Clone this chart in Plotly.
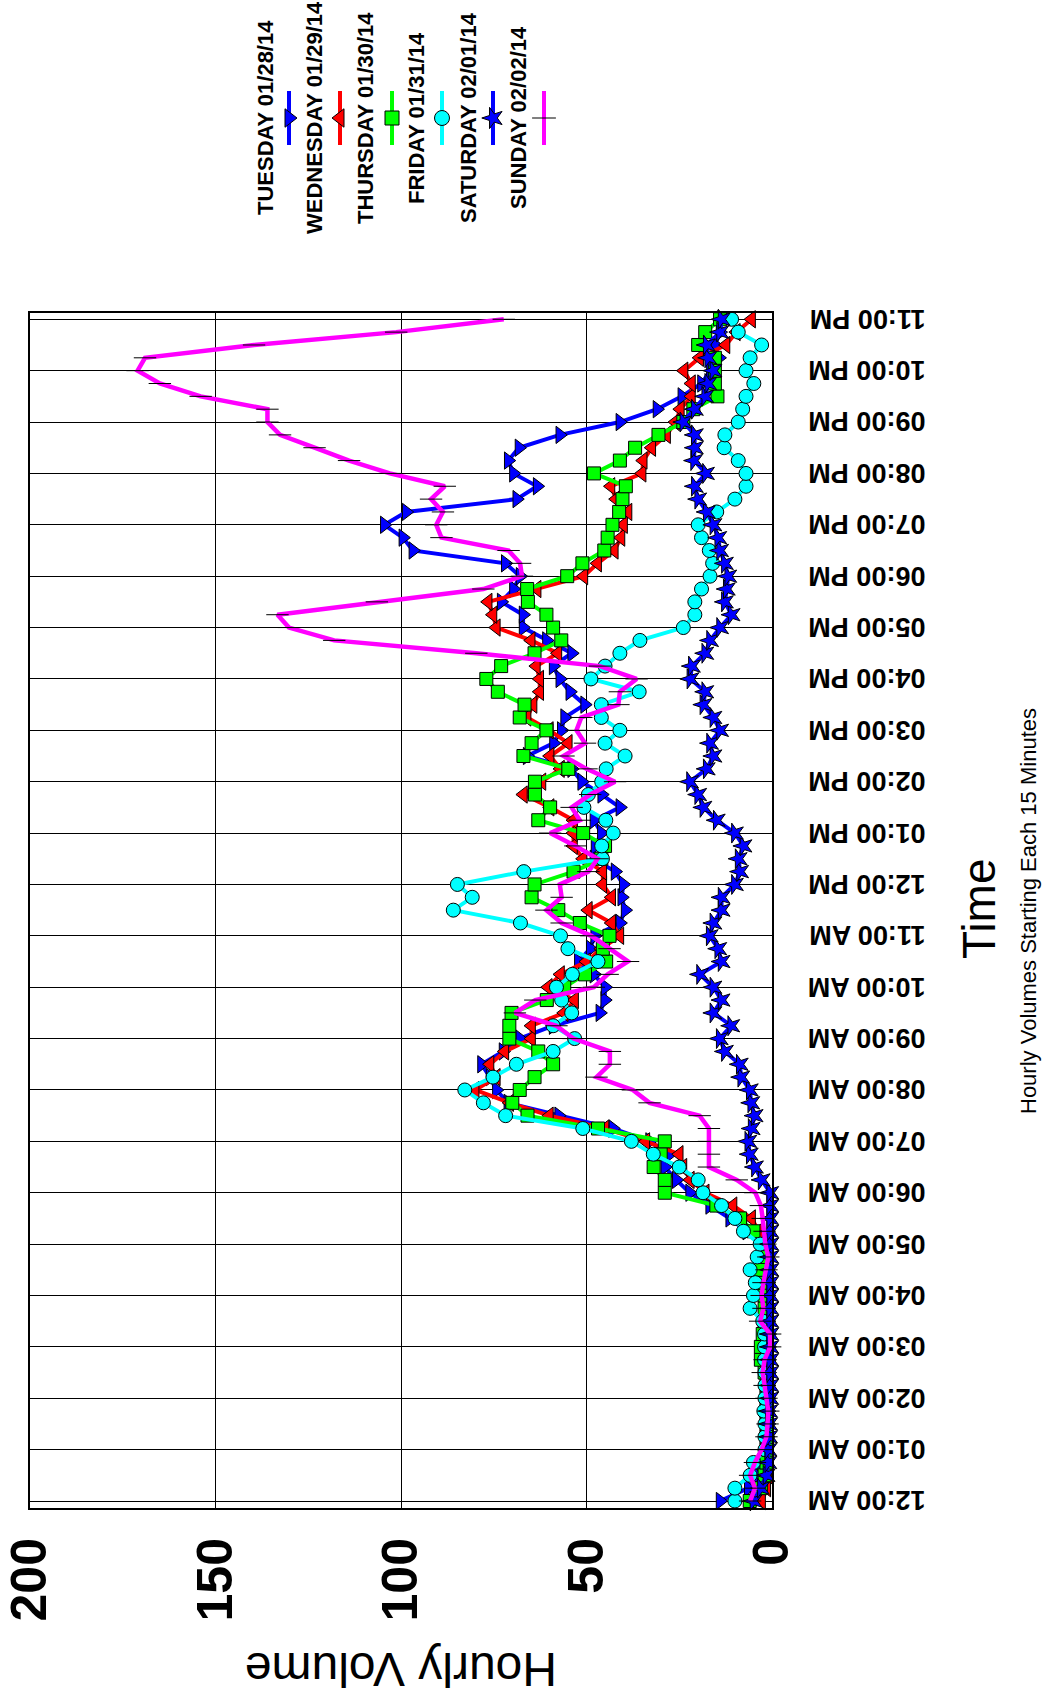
import plotly.graph_objects as go

# ---- hourly volumes, one value every 15 minutes from 12:00 AM to 11:00 PM ----
TUESDAY = [
    14, 6.4, 4.1, 2.8,
    1.5, 1.2, 1, 1,
    1, 1, 0.8, 0.8,
    0.8, 0.8, 1, 1,
    1, 1, 1.2, 1.5,
    2.3, 6.8, 11.4, 16.8,
    22.2, 25.8, 28.9, 27.6,
    33, 42.9, 57.5, 71.2,
    74.3, 76, 78.3, 72.5,
    68, 59, 46.4, 45.1,
    45, 48, 52.2, 49,
    47.8, 41, 39.6, 40.5,
    40.1, 42.3, 48, 47.7,
    46, 48, 41, 45.9,
    51.3, 54, 66, 58.9,
    56.8, 55.9, 50.5, 54.5,
    57.2, 59, 54, 60.8,
    67.1, 67.1, 73, 69.7,
    67.9, 71.9, 96.8, 99.5,
    104.5, 98.6, 68.8, 63.3,
    69.7, 71.1, 68.2, 57.2,
    41, 31, 24.3, 19,
    16.6, 14.3, 15.4, 14,
    13.7,
]
WEDNESDAY = [
    2.8, 1.4, 1, 1,
    1, 1, 1, 1,
    1, 1, 1, 1,
    1, 1, 1, 1,
    1, 1, 1, 1,
    1.5, 3.5, 5.5, 10.5,
    18, 22, 24, 25,
    34, 45, 60, 70.7,
    80, 74.3, 76, 72,
    64.8, 64.8, 56, 53.2,
    60.3, 57, 50, 46,
    41, 43.2, 49.5, 43.2,
    45.6, 45.6, 50.9, 53.5,
    53.5, 53.5, 59.8, 67,
    62, 57, 59.8, 54.9,
    60, 66, 64.4, 62.6,
    62.6, 63.5, 57.7, 64.9,
    74.3, 75.2, 76.5, 63.3,
    50.7, 47, 42.5, 40.7,
    40, 38.8, 42, 43.4,
    35, 34.7, 32.4, 28.4,
    26, 24.7, 21.7, 21.7,
    23.7, 19.5, 12.4, 9.6,
    5.5,
]
THURSDAY = [
    6, 3, 2, 1.5,
    1.5, 1.5, 1.5, 1.5,
    1.5, 1.5, 2, 3,
    3, 2.5, 2, 2,
    2, 3, 3, 2,
    1.9, 5, 8.6, 15,
    28.9, 28.9, 31.9, 30,
    28.9, 46.9, 65.9, 70,
    68, 64, 59, 63,
    70.8, 70.8, 70.2, 60.7,
    56, 50.4, 44.7, 45.6,
    43.8, 51.8, 57.6, 64.8,
    64, 53.5, 46, 45,
    50.9, 63, 59.8, 63.9,
    63.9, 54.9, 67, 64.8,
    60.8, 68, 66.7, 73.9,
    77, 73, 64, 56.8,
    59, 60.8, 65.8, 66,
    55.2, 51.1, 45.2, 44.3,
    43, 41.2, 40.3, 39.4,
    48, 41, 36.9, 30.6,
    23.9, 21.2, 14.7, 15.4,
    15.4, 15.4, 19.9, 18,
    14,
]
FRIDAY = [
    10, 10, 5.9, 5,
    1.9, 1.9, 1.9, 2.2,
    1.9, 1.9, 1.9, 2,
    2, 2, 2.5, 5.9,
    5, 4.5, 5.9, 4,
    3.2, 7.7, 10, 13.6,
    18.6, 19.9, 25, 32,
    37.9, 51, 71.8, 77.8,
    82.8, 75.2, 68.9, 59,
    53.2, 59, 54, 56.7,
    58.1, 53.8, 46.9, 55,
    57, 67.8, 85.9, 80.8,
    84.8, 66.9, 45.7, 45.9,
    42.8, 44.8, 50.7, 49.5,
    45.9, 44.7, 39.6, 45,
    41, 46, 46, 35.8,
    48.8, 45, 41, 35.6,
    23.9, 20.8, 20.8, 19,
    16.7, 16, 16.9, 19,
    19.9, 14.9, 10, 7,
    7, 9.1, 12.9, 12.7,
    9.1, 7.9, 7, 4.9,
    7, 5.9, 2.8, 9.1,
    10.9,
]
SATURDAY = [
    5, 3, 1.5, 1,
    1, 0.8, 0.8, 0.8,
    0.5, 0.5, 0.5, 0.5,
    0.5, 0.5, 0.5, 0.5,
    0.5, 0.5, 0.5, 0.5,
    0.5, 0.5, 0.5, 0.5,
    0.5, 2.8, 4.6, 6,
    6.4, 5.5, 4.7, 5.6,
    6, 8.3, 8.7, 12.7,
    14.1, 11, 15.8, 13.6,
    15.8, 19.4, 13.6, 14.5,
    16.8, 15.8, 13.6, 13.6,
    10, 8.6, 9, 7.7,
    10, 14.9, 18.5, 19.9,
    22.1, 17.6, 15.8, 16.7,
    14, 15.8, 18.5, 18,
    22, 21.6, 18, 16.7,
    14, 10.9, 12.7, 12.2,
    11.8, 12.7, 14, 14.5,
    15.8, 17.6, 19.9, 20.8,
    17.8, 21, 20.8, 20.8,
    23.9, 20.8, 18, 17.2,
    15.8, 17.2, 17.6, 14,
    13.6,
]
SUNDAY = [
    5.9, 4.6, 5.9, 4.6,
    2.8, 1.5, 1.2, 1,
    1.5, 2, 2.5, 2,
    0.5, 0.5, 3.2, 2.3,
    2.8, 2.3, 1.5, 1,
    1.8, 2, 2.5, 3,
    4.5, 9.5, 17, 17,
    17, 17, 19.5, 33,
    37.5, 47.3, 43.7, 43.7,
    53.5, 58.1, 69.3, 63.8,
    48, 44.3, 38.8, 43.8,
    48.7, 56.7, 60.8, 56.7,
    57.2, 49.5, 47, 53,
    59.8, 51.8, 54, 49,
    42.3, 50, 56.2, 50.4,
    52.7, 51.4, 41.4, 41,
    36.5, 46.4, 79.7, 118,
    130.2, 133.3, 106.5, 77.8,
    67.4, 67.9, 71, 89.1,
    90.5, 88.7, 91.9, 88.2,
    103, 114, 123.3, 132.6,
    136, 136, 154, 165,
    171, 169, 139.6, 101.3,
    72.3,
]

SERIES_NAMES = ["TUESDAY 01/28/14", "WEDNESDAY 01/29/14", "THURSDAY 01/30/14",
                "FRIDAY 01/31/14", "SATURDAY 02/01/14", "SUNDAY 02/02/14"]
SERIES_VALUES = [TUESDAY, WEDNESDAY, THURSDAY, FRIDAY, SATURDAY, SUNDAY]

HOUR_LABELS = ["12:00 AM", "01:00 AM", "02:00 AM", "03:00 AM", "04:00 AM", "05:00 AM",
               "06:00 AM", "07:00 AM", "08:00 AM", "09:00 AM", "10:00 AM", "11:00 AM",
               "12:00 PM", "01:00 PM", "02:00 PM", "03:00 PM", "04:00 PM", "05:00 PM",
               "06:00 PM", "07:00 PM", "08:00 PM", "09:00 PM", "10:00 PM", "11:00 PM"]
VOLUME_TICKS = [0, 50, 100, 150, 200]

# interval start times, in hours after midnight
TIMES = [i * 0.25 for i in range(len(TUESDAY))]

# ---- styling ----
W, H = 1044, 1702
FONT = "Liberation Sans, Arial, sans-serif"
STYLES = [
    dict(color="#0000FF", symbol="triangle-right", size=15, angle=0),
    dict(color="#FF0000", symbol="triangle-left", size=15, angle=0),
    dict(color="#00FF00", symbol="square", size=13, angle=0),
    dict(color="#00FFFF", symbol="circle", size=14, angle=0),
    dict(color="#0000FF", symbol="star", size=15, angle=270),
    dict(color="#FF00FF", symbol="line-ew", size=16, angle=0),
]

# plot frame in pixels
PX_L, PX_R, PX_T, PX_B = 30, 772, 312.7, 1508

fig = go.Figure()

for name, vals, st in zip(SERIES_NAMES, SERIES_VALUES, STYLES):
    is_dash = st["symbol"] == "line-ew"
    fig.add_trace(go.Scatter(
        x=vals, y=TIMES, name=name, mode="lines+markers",
        line=dict(color=st["color"], width=4.5 if is_dash else 4),
        marker=dict(symbol=st["symbol"], size=st["size"], angle=st["angle"],
                    color=st["color"] if not is_dash else "black",
                    line=dict(color="black", width=1)),
        xaxis="x", yaxis="y", showlegend=False, cliponaxis=False,
    ))

# ---- hand-built legend (rotated entries) in a small pixel-space subplot ----
LEG_X0, LEG_X1, LEG_Y0, LEG_Y1 = 230, 575, 0, 250
LEG_TEXT_X = [265, 314, 365, 416, 468, 518]
LEG_LINE_X = [289, 340, 392, 442, 493, 544]
LEG_MID_Y = 118
for name, st, tx, lx in zip(SERIES_NAMES, STYLES, LEG_TEXT_X, LEG_LINE_X):
    is_dash = st["symbol"] == "line-ew"
    fig.add_trace(go.Scatter(
        x=[lx, lx], y=[LEG_MID_Y - 27, LEG_MID_Y + 27], mode="lines",
        line=dict(color=st["color"], width=4), xaxis="x2", yaxis="y2",
        showlegend=False, hoverinfo="skip"))
    fig.add_trace(go.Scatter(
        x=[lx], y=[LEG_MID_Y], mode="markers",
        marker=dict(symbol=st["symbol"], size=st["size"] + 1, angle=st["angle"],
                    color=st["color"] if not is_dash else "black",
                    line=dict(color="black", width=1)),
        xaxis="x2", yaxis="y2", showlegend=False, hoverinfo="skip", cliponaxis=False))
    fig.add_annotation(x=tx, y=LEG_MID_Y, xref="x2", yref="y2", text=name,
                       textangle=-90, showarrow=False,
                       xanchor="center", yanchor="middle",
                       font=dict(family=FONT, size=22, color="black", weight="bold"))

# ---- axis titles ----
fig.add_annotation(x=401 / W, y=1 - 1670 / H, xref="paper", yref="paper",
                   text="Hourly Volume", textangle=180, showarrow=False,
                   xanchor="center", yanchor="middle",
                   font=dict(family=FONT, size=48, color="black"))
fig.add_annotation(x=979 / W, y=1 - 909 / H, xref="paper", yref="paper",
                   text="Time", textangle=-90, showarrow=False,
                   xanchor="center", yanchor="middle",
                   font=dict(family=FONT, size=46, color="black"))
fig.add_annotation(x=1029 / W, y=1 - 911 / H, xref="paper", yref="paper",
                   text="Hourly Volumes Starting Each 15 Minutes", textangle=-90,
                   showarrow=False, xanchor="center", yanchor="middle",
                   font=dict(family=FONT, size=22, color="black"))

fig.update_layout(
    width=W, height=H,
    margin=dict(l=0, r=0, t=0, b=0),
    paper_bgcolor="white", plot_bgcolor="rgba(0,0,0,0)",
    showlegend=False,
    xaxis=dict(
        domain=[PX_L / W, PX_R / W], range=[200, 0], automargin=False,
        tickvals=VOLUME_TICKS, ticktext=[str(v) for v in VOLUME_TICKS],
        tickangle=-90, ticklabelstandoff=8,
        tickfont=dict(family=FONT, size=50, color="black", weight="bold"),
        showgrid=True, gridcolor="black", gridwidth=1, zeroline=False,
        showline=True, mirror=True, linecolor="black", linewidth=2,
        ticks="", anchor="y",
    ),
    yaxis=dict(
        domain=[1 - PX_B / H, 1 - PX_T / H], range=[-0.136, 23.128], automargin=False,
        side="right", tickvals=list(range(24)), ticktext=HOUR_LABELS,
        tickangle=180, ticklabelstandoff=146, ticklabelshift=8,
        tickfont=dict(family=FONT, size=27, color="black", weight="bold"),
        showgrid=True, gridcolor="black", gridwidth=1, zeroline=False,
        showline=True, mirror=True, linecolor="black", linewidth=2,
        ticks="", anchor="x",
    ),
    xaxis2=dict(domain=[LEG_X0 / W, LEG_X1 / W], range=[LEG_X0, LEG_X1],
                visible=False, anchor="y2", fixedrange=True, automargin=False),
    yaxis2=dict(domain=[1 - LEG_Y1 / H, 1 - LEG_Y0 / H], range=[LEG_Y1, LEG_Y0],
                visible=False, anchor="x2", fixedrange=True, automargin=False),
)

fig.write_html("out.html")
